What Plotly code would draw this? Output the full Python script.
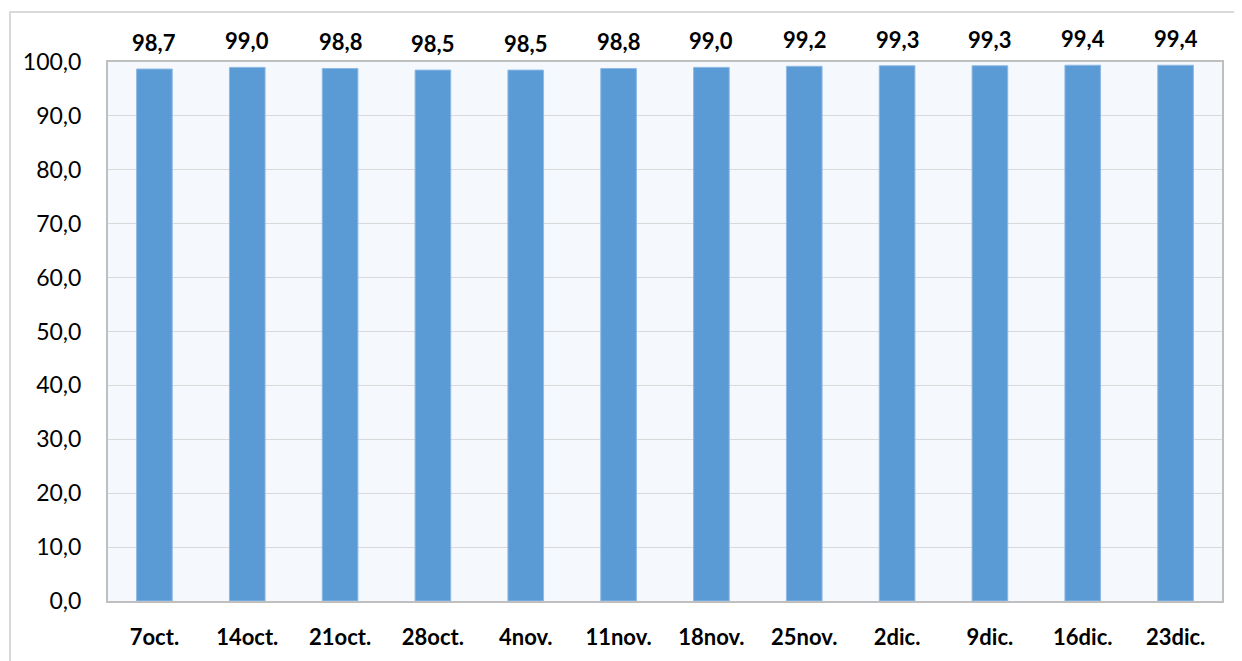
import plotly.graph_objects as go

categories = ["7oct.", "14oct.", "21oct.", "28oct.", "4nov.", "11nov.",
              "18nov.", "25nov.", "2dic.", "9dic.", "16dic.", "23dic."]
values = [98.7, 99.0, 98.8, 98.5, 98.5, 98.8, 99.0, 99.2, 99.3, 99.3, 99.4, 99.4]
y_ticks = [0, 10, 20, 30, 40, 50, 60, 70, 80, 90, 100]
y_tick_labels = [f"{v:.1f}".replace(".", ",") for v in y_ticks]
value_labels = [f"{v:.1f}".replace(".", ",") for v in values]

fig = go.Figure()
fig.add_trace(go.Bar(
    x=categories, y=values,
    marker=dict(color="#5B9BD5", line=dict(color="#8FB9E4", width=1)),
    hoverinfo="x+y",
))

for c, v, t in zip(categories, values, value_labels):
    fig.add_annotation(x=c, y=v, text=f"<b>{t}</b>", showarrow=False,
                       yanchor="bottom", yshift=11,
                       font=dict(family="Lato", size=22, color="#000000"))

# outer chart-area border (page has an 8px body margin)
fig.add_shape(type="rect", xref="paper", yref="paper",
              x0=(2 - 100) / 1114, x1=(1260 - 100) / 1114,
              y0=(593 - 680) / 539, y1=(593 - 4) / 539,
              line=dict(color="#D9D9D9", width=2), fillcolor="rgba(0,0,0,0)",
              layer="below")

fig.update_layout(
    width=1242, height=661,
    margin=dict(l=100, r=28, t=54, b=68, autoexpand=False),
    paper_bgcolor="#FFFFFF",
    plot_bgcolor="#F5F9FD",
    bargap=0.616,
    showlegend=False,
    xaxis=dict(
        automargin=False,
        tickfont=dict(family="Lato", size=22, color="#000000", weight="bold"),
        showline=True, linecolor="#BFBFBF", linewidth=2, mirror=True,
        ticks="", ticklabelstandoff=16, showgrid=False,
    ),
    yaxis=dict(
        automargin=False,
        range=[0, 100], tickvals=y_ticks, ticktext=y_tick_labels,
        tickfont=dict(family="Lato", size=23, color="#000000"),
        showline=True, linecolor="#BFBFBF", linewidth=2, mirror=True,
        gridcolor="#D9D9D9", gridwidth=1, ticks="", ticklabelstandoff=20,
        zeroline=False,
    ),
)

fig.write_html("out.html")
